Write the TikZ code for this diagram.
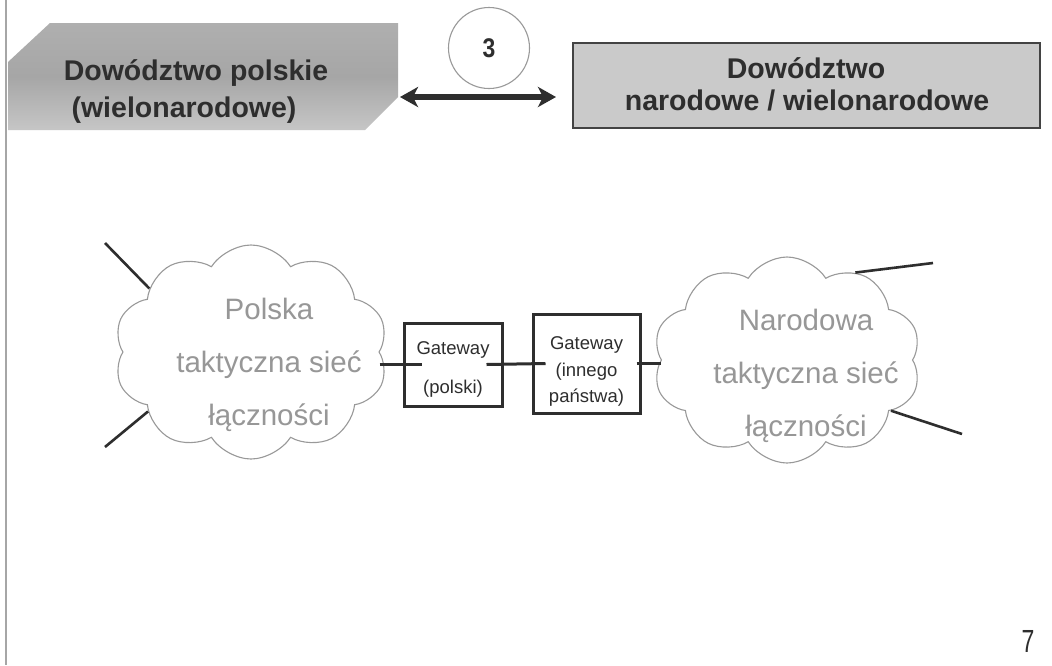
\documentclass[tikz,border=0pt]{standalone}
\usepackage{fontspec}
\setmainfont{Liberation Sans}
\usetikzlibrary{shapes.symbols,arrows.meta}
\definecolor{inkdark}{HTML}{2E2E2E}
\definecolor{cloudtxt}{HTML}{979797}
\definecolor{boxfill}{HTML}{CACACA}
\definecolor{bannerdark}{HTML}{A6A6A6}
\definecolor{bannerlight}{HTML}{C6C6C6}
\tikzset{
  headtxt/.style={font=\fontsize{28.5}{30}\selectfont\bfseries, text=inkdark, inner sep=0pt},
  gwbox/.style={draw=inkdark, line width=3pt, minimum width=#1, inner sep=0pt},
  gwtxt/.style={font=\fontsize{18.5}{20}\selectfont, text=inkdark, inner sep=0pt},
  netcloud/.style={cloud, cloud puffs=10, cloud puff arc=115, cloud ignores aspect, draw=gray!80, line width=1.1pt},
  cloudtext/.style={font=\fontsize{29.5}{53}\selectfont, text=cloudtxt, align=center, inner sep=0pt},
  link/.style={draw=inkdark, line width=3pt},
  spoke/.style={draw=inkdark, line width=2.6pt},
  bigarrow/.style={draw=inkdark, line width=6pt, {Stealth[length=18pt,width=20pt,inset=5pt]}-{Stealth[length=18pt,width=20pt,inset=5pt]}}
}
\begin{document}
\begin{tikzpicture}[x=1pt,y=-1pt]
\useasboundingbox (0,0) rectangle (1052,665);
\fill[white] (0,0) rectangle (1052,665);
% page margin line
\draw[gray!70, line width=1.4pt] (6,0) -- (6,665);
% left banner
\shade[top color=bannerdark!90, bottom color=bannerlight, middle color=bannerdark]
  (50,23) -- (398,23) -- (398,97) -- (365,130) -- (8,130) -- (8,62) -- cycle;
\node[headtxt] (bl1) at (196,73) {Dowództwo polskie};
\node[headtxt] (bl2) at (184,110) {(wielonarodowe)};
% right box
\node[draw=inkdark!90, line width=2.8pt, fill=boxfill, minimum width=467pt, minimum height=85pt, inner sep=0pt] (boxR) at (806.5,85.5) {};
\node[headtxt] (br1) at (806,68) {Dowództwo};
\node[headtxt] (br2) at (807,100) {narodowe / wielonarodowe};
% circle 3
\node[circle, draw=gray!80, line width=1.1pt, fill=white, minimum size=81pt, inner sep=0pt, font=\fontsize{27}{28}\selectfont\bfseries, text=inkdark] (c3) at (489,48) {\raisebox{-2pt}{\scalebox{0.85}[1]{3}}};
% double arrow
\coordinate (aL) at (400,97);
\coordinate (aR) at (556,97);
\draw[bigarrow] (aL) -- (aR);
% clouds
\node[netcloud, minimum width=274pt, minimum height=214pt] (cloudL) at (251,352) {};
\node[cloudtext] (tL) at (269,365) {Polska\\taktyczna sieć\\łączności};
\node[netcloud, minimum width=268pt, minimum height=206pt] (cloudR) at (787,360) {};
\node[cloudtext] (tR) at (806,376) {Narodowa\\taktyczna sieć\\łączności};
% gateways
\node[gwbox=98pt, minimum height=83pt] (gw1) at (453,364.5) {};
\node[gwtxt] (gw1a) at (453,350) {Gateway};
\node[gwtxt] (gw1b) at (453,389) {(polski)};
\node[gwbox=107pt, minimum height=99pt] (gw2) at (586.5,363.5) {};
\node[gwtxt] (gw2a) at (586.5,345) {Gateway};
\node[gwtxt] (gw2b) at (586.5,372) {(innego};
\node[gwtxt] (gw2c) at (586.5,398) {państwa)};
% links
\draw[link] (cloudL.east |- gw1.west) -- ([xshift=19pt]gw1.west);
\draw[link] ([xshift=-17pt]gw1.east) -- ([xshift=14pt]gw2.west);
\draw[link] ([xshift=-5pt]gw2.east) -- (cloudR.west |- gw2.east);
% spokes
\coordinate (sL1) at (105,243);
\coordinate (sL2) at (105,447);
\coordinate (sR1) at (933,263);
\coordinate (sR2) at (962,434);
\draw[spoke] (sL1) -- (cloudL.148);
\draw[spoke] (sL2) -- (cloudL.210);
\draw[spoke] (sR1) -- (cloudR.52);
\draw[spoke] (sR2) -- (cloudR.-26);
% page number
\node[font=\fontsize{32}{34}\selectfont, text=inkdark, inner sep=0pt] (pg) at (1028,641) {\scalebox{0.72}[1]{7}};
\end{tikzpicture}
\end{document}
